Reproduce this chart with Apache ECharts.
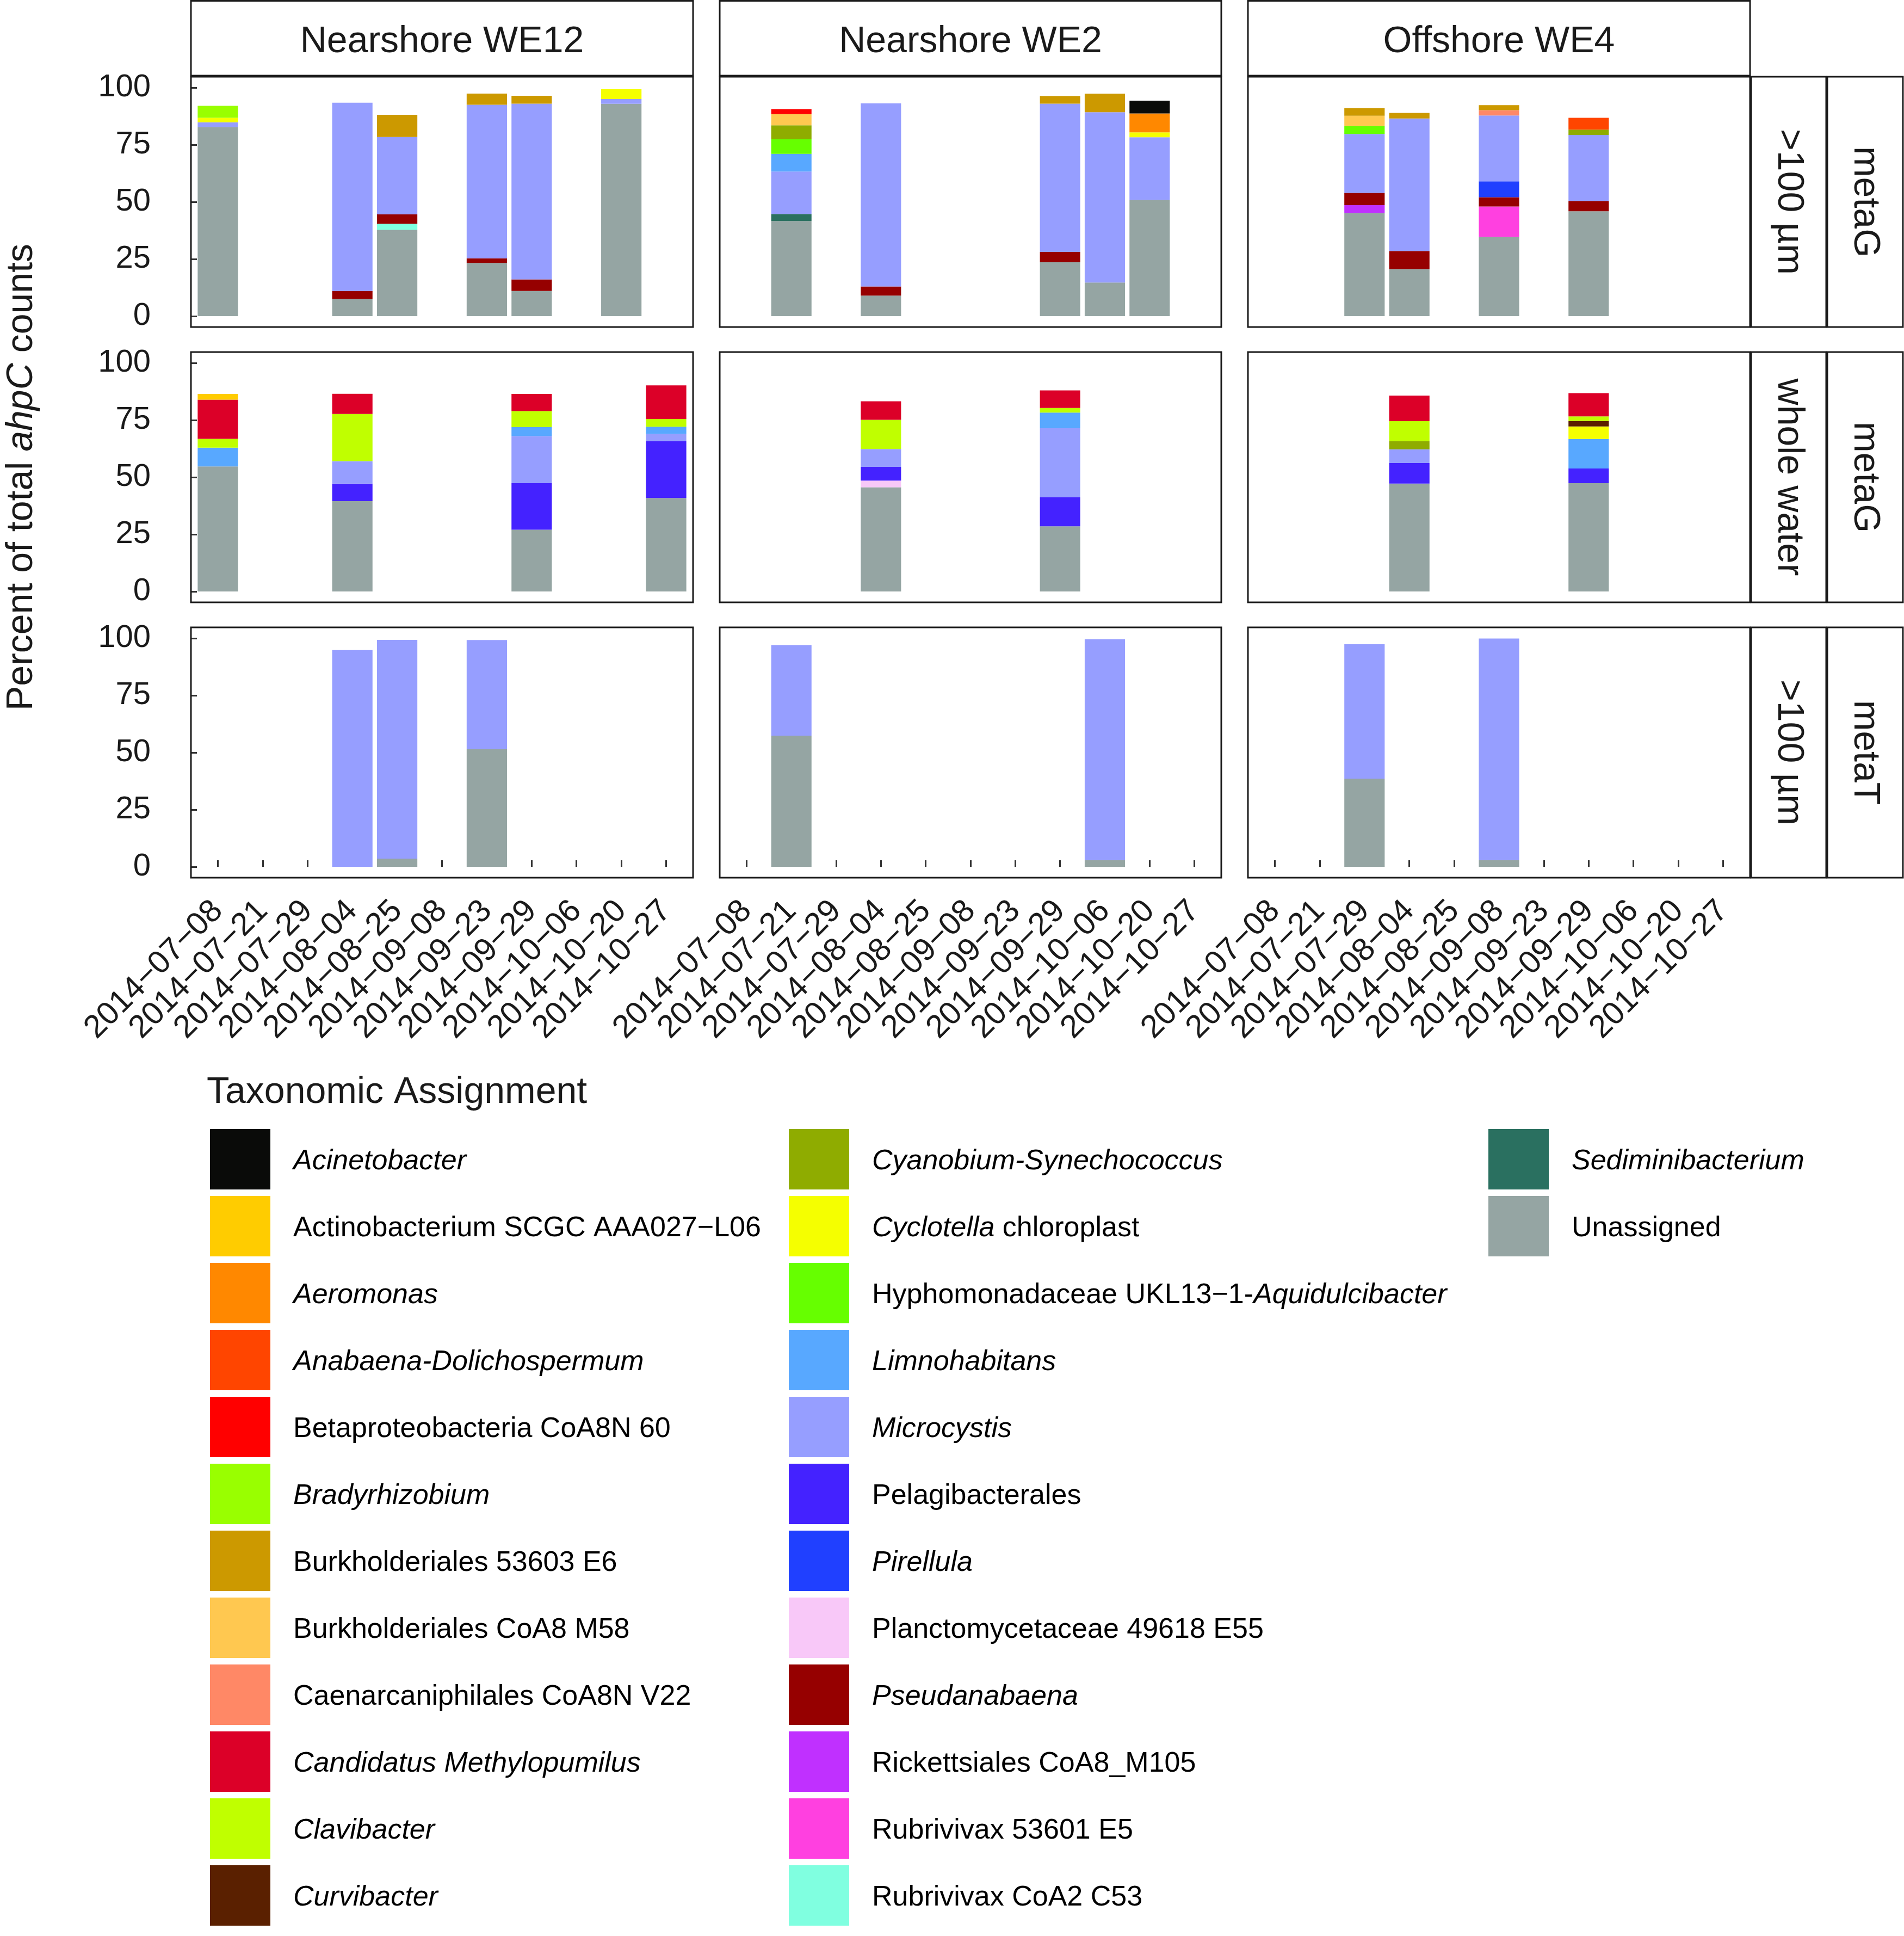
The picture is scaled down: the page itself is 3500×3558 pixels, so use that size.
<!DOCTYPE html>
<html>
<head>
<meta charset="utf-8">
<script src="https://cdn.jsdelivr.net/npm/echarts@6/dist/echarts.min.js"></script>
<style>
html,body{margin:0;padding:0;background:#fff;}
#c{width:3500px;height:3558px;}
</style>
</head>
<body>
<div id="c"></div>
<script>
// ---------------- DATA ----------------
const dates = ['2014-07-08','2014-07-21','2014-07-29','2014-08-04','2014-08-25','2014-09-08','2014-09-23','2014-09-29','2014-10-06','2014-10-20','2014-10-27'];
const sites = ['Nearshore WE12','Nearshore WE2','Offshore WE4'];
const fractions = ['>100 µm','whole water','>100 µm'];
const dataTypes = ['metaG','metaG','metaT'];
const yTicks = [0,25,50,75,100];

const taxa = ['Acinetobacter','Actinobacterium SCGC AAA027-L06','Aeromonas','Anabaena-Dolichospermum','Betaproteobacteria CoA8N 60','Bradyrhizobium','Burkholderiales 53603 E6','Burkholderiales CoA8 M58','Caenarcaniphilales CoA8N V22','Candidatus Methylopumilus','Clavibacter','Curvibacter','Cyanobium-Synechococcus','Cyclotella chloroplast','Hyphomonadaceae UKL13-1-Aquidulcibacter','Limnohabitans','Microcystis','Pelagibacterales','Pirellula','Planctomycetaceae 49618 E55','Pseudanabaena','Rickettsiales CoA8_M105','Rubrivivax 53601 E5','Rubrivivax CoA2 C53','Sediminibacterium','Unassigned'];
const taxaLabels = ['{i|Acinetobacter}','{r|Actinobacterium SCGC AAA027−L06}','{i|Aeromonas}','{i|Anabaena-Dolichospermum}','{r|Betaproteobacteria CoA8N 60}','{i|Bradyrhizobium}','{r|Burkholderiales 53603 E6}','{r|Burkholderiales CoA8 M58}','{r|Caenarcaniphilales CoA8N V22}','{i|Candidatus Methylopumilus}','{i|Clavibacter}','{i|Curvibacter}','{i|Cyanobium-Synechococcus}','{i|Cyclotella}{r| chloroplast}','{r|Hyphomonadaceae UKL13−1-}{i|Aquidulcibacter}','{i|Limnohabitans}','{i|Microcystis}','{r|Pelagibacterales}','{i|Pirellula}','{r|Planctomycetaceae 49618 E55}','{i|Pseudanabaena}','{r|Rickettsiales CoA8_M105}','{r|Rubrivivax 53601 E5}','{r|Rubrivivax CoA2 C53}','{i|Sediminibacterium}','{r|Unassigned}'];
const taxaColors = ['#0a0b09','#ffcc00','#ff8800','#ff4500','#ff0000','#99ff00','#cc9900','#ffc850','#ff8866','#dc0028','#c0ff00','#5a2000','#8fac00','#f5ff00','#66ff00','#58a8ff','#969eff','#4422ff','#2040ff','#f8c8f8','#960000','#c030ff','#ff40e0','#80ffe0','#2a7060','#95a5a3'];

// segment heights, [date, taxon, percent]
const we12_g100_metaG = [
 ['2014-07-08','Unassigned',82.8],['2014-07-08','Microcystis',2.0],['2014-07-08','Cyclotella chloroplast',2.0],['2014-07-08','Bradyrhizobium',5.2],
 ['2014-08-04','Unassigned',7.5],['2014-08-04','Pseudanabaena',3.5],['2014-08-04','Microcystis',82.4],
 ['2014-08-25','Unassigned',37.8],['2014-08-25','Rubrivivax CoA2 C53',2.6],['2014-08-25','Pseudanabaena',4.1],['2014-08-25','Microcystis',33.9],['2014-08-25','Burkholderiales 53603 E6',9.7],
 ['2014-09-23','Unassigned',23.3],['2014-09-23','Pseudanabaena',2.0],['2014-09-23','Microcystis',67.2],['2014-09-23','Burkholderiales 53603 E6',4.9],
 ['2014-09-29','Unassigned',11.0],['2014-09-29','Pseudanabaena',5.1],['2014-09-29','Microcystis',76.9],['2014-09-29','Burkholderiales 53603 E6',3.4],
 ['2014-10-20','Unassigned',92.9],['2014-10-20','Microcystis',2.1],['2014-10-20','Cyclotella chloroplast',4.3]
];
const we2_g100_metaG = [
 ['2014-07-21','Unassigned',41.6],['2014-07-21','Sediminibacterium',3.1],['2014-07-21','Microcystis',18.6],['2014-07-21','Limnohabitans',7.7],['2014-07-21','Hyphomonadaceae UKL13-1-Aquidulcibacter',6.4],['2014-07-21','Cyanobium-Synechococcus',6.1],['2014-07-21','Burkholderiales CoA8 M58',4.9],['2014-07-21','Betaproteobacteria CoA8N 60',2.2],
 ['2014-08-04','Unassigned',9.0],['2014-08-04','Pseudanabaena',4.0],['2014-08-04','Microcystis',80.1],
 ['2014-09-29','Unassigned',23.6],['2014-09-29','Pseudanabaena',4.5],['2014-09-29','Microcystis',64.9],['2014-09-29','Burkholderiales 53603 E6',3.3],
 ['2014-10-06','Unassigned',14.7],['2014-10-06','Microcystis',74.5],['2014-10-06','Burkholderiales 53603 E6',8.1],
 ['2014-10-20','Unassigned',50.9],['2014-10-20','Microcystis',27.4],['2014-10-20','Cyclotella chloroplast',2.1],['2014-10-20','Aeromonas',8.3],['2014-10-20','Acinetobacter',5.6]
];
const we4_g100_metaG = [
 ['2014-07-29','Unassigned',45.1],['2014-07-29','Rickettsiales CoA8_M105',3.5],['2014-07-29','Pseudanabaena',5.3],['2014-07-29','Microcystis',25.8],['2014-07-29','Hyphomonadaceae UKL13-1-Aquidulcibacter',3.5],['2014-07-29','Burkholderiales CoA8 M58',4.5],['2014-07-29','Burkholderiales 53603 E6',3.3],
 ['2014-08-04','Unassigned',20.6],['2014-08-04','Pseudanabaena',7.9],['2014-08-04','Microcystis',58.0],['2014-08-04','Burkholderiales 53603 E6',2.4],
 ['2014-09-08','Unassigned',34.7],['2014-09-08','Rubrivivax 53601 E5',13.3],['2014-09-08','Pseudanabaena',4.0],['2014-09-08','Pirellula',7.0],['2014-09-08','Microcystis',28.8],['2014-09-08','Caenarcaniphilales CoA8N V22',2.3],['2014-09-08','Burkholderiales 53603 E6',2.2],
 ['2014-09-29','Unassigned',45.9],['2014-09-29','Pseudanabaena',4.5],['2014-09-29','Microcystis',28.9],['2014-09-29','Cyanobium-Synechococcus',2.3],['2014-09-29','Anabaena-Dolichospermum',5.2]
];
const we12_whole_metaG = [
 ['2014-07-08','Unassigned',54.7],['2014-07-08','Limnohabitans',8.2],['2014-07-08','Clavibacter',3.9],['2014-07-08','Candidatus Methylopumilus',17.1],['2014-07-08','Actinobacterium SCGC AAA027-L06',2.5],
 ['2014-08-04','Unassigned',39.5],['2014-08-04','Pelagibacterales',7.7],['2014-08-04','Microcystis',9.8],['2014-08-04','Clavibacter',20.7],['2014-08-04','Candidatus Methylopumilus',8.8],
 ['2014-09-29','Unassigned',27.0],['2014-09-29','Pelagibacterales',20.4],['2014-09-29','Microcystis',20.6],['2014-09-29','Limnohabitans',3.9],['2014-09-29','Clavibacter',7.0],['2014-09-29','Candidatus Methylopumilus',7.5],
 ['2014-10-27','Unassigned',40.9],['2014-10-27','Pelagibacterales',24.9],['2014-10-27','Microcystis',3.1],['2014-10-27','Limnohabitans',3.2],['2014-10-27','Clavibacter',3.4],['2014-10-27','Candidatus Methylopumilus',14.7]
];
const we2_whole_metaG = [
 ['2014-08-04','Unassigned',45.6],['2014-08-04','Planctomycetaceae 49618 E55',2.9],['2014-08-04','Pelagibacterales',6.0],['2014-08-04','Microcystis',7.8],['2014-08-04','Clavibacter',12.8],['2014-08-04','Candidatus Methylopumilus',8.1],
 ['2014-09-29','Unassigned',28.5],['2014-09-29','Pelagibacterales',12.7],['2014-09-29','Microcystis',30.2],['2014-09-29','Limnohabitans',6.9],['2014-09-29','Clavibacter',2.0],['2014-09-29','Candidatus Methylopumilus',7.7]
];
const we4_whole_metaG = [
 ['2014-08-04','Unassigned',47.2],['2014-08-04','Pelagibacterales',9.0],['2014-08-04','Microcystis',6.0],['2014-08-04','Cyanobium-Synechococcus',3.6],['2014-08-04','Clavibacter',8.7],['2014-08-04','Candidatus Methylopumilus',11.2],
 ['2014-09-29','Unassigned',47.4],['2014-09-29','Pelagibacterales',6.4],['2014-09-29','Limnohabitans',12.9],['2014-09-29','Cyclotella chloroplast',5.5],['2014-09-29','Curvibacter',2.4],['2014-09-29','Clavibacter',2.0],['2014-09-29','Candidatus Methylopumilus',10.2]
];
const we12_g100_metaT = [
 ['2014-08-04','Microcystis',94.8],
 ['2014-08-25','Unassigned',3.6],['2014-08-25','Microcystis',95.7],
 ['2014-09-23','Unassigned',51.4],['2014-09-23','Microcystis',47.8]
];
const we2_g100_metaT = [
 ['2014-07-21','Unassigned',57.4],['2014-07-21','Microcystis',39.6],
 ['2014-10-06','Unassigned',2.9],['2014-10-06','Microcystis',96.7]
];
const we4_g100_metaT = [
 ['2014-07-29','Unassigned',38.6],['2014-07-29','Microcystis',58.8],
 ['2014-09-08','Unassigned',2.9],['2014-09-08','Microcystis',97.0]
];

// ---------------- LAYOUT ----------------
const panelData = [
  [we12_g100_metaG, we2_g100_metaG, we4_g100_metaG],
  [we12_whole_metaG, we2_whole_metaG, we4_whole_metaG],
  [we12_g100_metaT, we2_g100_metaT, we4_g100_metaT]
];
const FONT = "'Liberation Sans', Arial, Helvetica, sans-serif";
const TXT = '#1a1a1a';
const colLeft = [351, 1323, 2294];
const colW = [923, 922, 923];
const rowTop = [141, 647, 1153];
const PH = 460;

const grids = [], xAxes = [], yAxes = [], series = [], graphics = [];

for (let r = 0; r < 3; r++) {
  for (let c = 0; c < 3; c++) {
    const p = r * 3 + c;
    const band = colW[c] / 11.2;
    grids.push({left: colLeft[c] + 0.1 * band, top: rowTop[r] + 20, width: 11 * band, height: 420});
    xAxes.push({
      type: 'category', gridIndex: p, data: dates, offset: 20,
      axisLine: {show: false}, splitLine: {show: false},
      axisTick: {show: r === 2, inside: true, alignWithLabel: true, length: 12, lineStyle: {color: '#333', width: 3}},
      axisLabel: {show: r === 2, rotate: 45, interval: 0, fontSize: 59, margin: 52, color: TXT, fontFamily: FONT,
        formatter: v => v.replace(/-/g, '\u2212')}
    });
    yAxes.push({
      type: 'value', gridIndex: p, min: yTicks[0], max: yTicks[yTicks.length - 1], interval: 25, offset: 0.1 * band,
      axisLine: {show: false}, splitLine: {show: false},
      axisTick: {show: c === 0, inside: true, length: 11, lineStyle: {color: '#333', width: 3}},
      axisLabel: {show: c === 0, fontSize: 58, margin: 74, color: TXT, fontFamily: FONT, padding: [8, 0, 0, 0]}
    });
    const recs = panelData[r][c];
    for (let t = taxa.length - 1; t >= 0; t--) {
      const name = taxa[t];
      const mine = recs.filter(d => d[1] === name);
      if (!mine.length) continue;
      const vals = dates.map(d => {
        const m = mine.find(x => x[0] === d);
        return m ? m[2] : '-';
      });
      series.push({
        type: 'bar', name: name, xAxisIndex: p, yAxisIndex: p, stack: 'p' + p,
        barWidth: '90%', data: vals, itemStyle: {color: taxaColors[t]},
        emphasis: {disabled: true}
      });
    }
    // panel border
    graphics.push({type: 'rect', z: 100, shape: {x: colLeft[c], y: rowTop[r], width: colW[c], height: PH},
      style: {fill: 'none', stroke: TXT, lineWidth: 3}});
  }
}

// top strips
for (let c = 0; c < 3; c++) {
  graphics.push({type: 'rect', z: 100, shape: {x: colLeft[c], y: 1.5, width: colW[c], height: 137.5},
    style: {fill: '#fff', stroke: TXT, lineWidth: 3}});
  graphics.push({type: 'text', z: 101, x: colLeft[c] + colW[c] / 2, y: 77,
    style: {text: sites[c], fontSize: 68, fontFamily: FONT, fill: TXT, align: 'center', verticalAlign: 'middle'}});
}
// right strips
for (let r = 0; r < 3; r++) {
  graphics.push({type: 'rect', z: 100, shape: {x: 3219, y: rowTop[r], width: 138, height: PH},
    style: {fill: '#fff', stroke: TXT, lineWidth: 3}});
  graphics.push({type: 'rect', z: 100, shape: {x: 3359, y: rowTop[r], width: 139, height: PH},
    style: {fill: '#fff', stroke: TXT, lineWidth: 3}});
  graphics.push({type: 'text', z: 101, x: 3288, y: rowTop[r] + PH / 2, rotation: -Math.PI / 2,
    style: {text: fractions[r], fontSize: 68, fontFamily: FONT, fill: TXT, align: 'center', verticalAlign: 'middle'}});
  graphics.push({type: 'text', z: 101, x: 3428, y: rowTop[r] + PH / 2, rotation: -Math.PI / 2,
    style: {text: dataTypes[r], fontSize: 68, fontFamily: FONT, fill: TXT, align: 'center', verticalAlign: 'middle'}});
}
// y-axis title
graphics.push({type: 'text', z: 101, x: 40, y: 877, rotation: Math.PI / 2,
  style: {text: '{a|Percent of total }{b|ahpC}{a| counts}', align: 'center', verticalAlign: 'middle',
    rich: {a: {fontSize: 68, fontFamily: FONT, fill: TXT}, b: {fontSize: 68, fontFamily: FONT, fontStyle: 'italic', fill: TXT}}}});
// legend title
graphics.push({type: 'text', z: 101, x: 380, y: 2008,
  style: {text: 'Taxonomic Assignment', fontSize: 68, fontFamily: FONT, fill: TXT, align: 'left', verticalAlign: 'middle'}});

// legends (three columns)
const legendCols = [[0, 12, 386], [12, 24, 1450], [24, 26, 2736]];
const legends = legendCols.map(([a, b, left]) => ({
  orient: 'vertical', left: left, top: 2075, padding: 0,
  itemWidth: 111, itemHeight: 111, itemGap: 12, selectedMode: false,
  data: taxa.slice(a, b).map(n => ({name: n, icon: 'rect'})),
  formatter: name => '{sp| }' + taxaLabels[taxa.indexOf(name)],
  textStyle: {
    fontSize: 52, fontFamily: FONT, color: '#000', padding: [8, 0, 0, 0],
    rich: {
      sp: {width: 37, fontSize: 52},
      r: {fontSize: 52, fontFamily: FONT, color: '#000'},
      i: {fontSize: 52, fontFamily: FONT, fontStyle: 'italic', color: '#000'}
    }
  }
}));

const chart = echarts.init(document.getElementById('c'));
chart.setOption({
  animation: false,
  backgroundColor: '#fff',
  grid: grids,
  xAxis: xAxes,
  yAxis: yAxes,
  legend: legends,
  series: series,
  graphic: {elements: graphics}
});
</script>
</body>
</html>
